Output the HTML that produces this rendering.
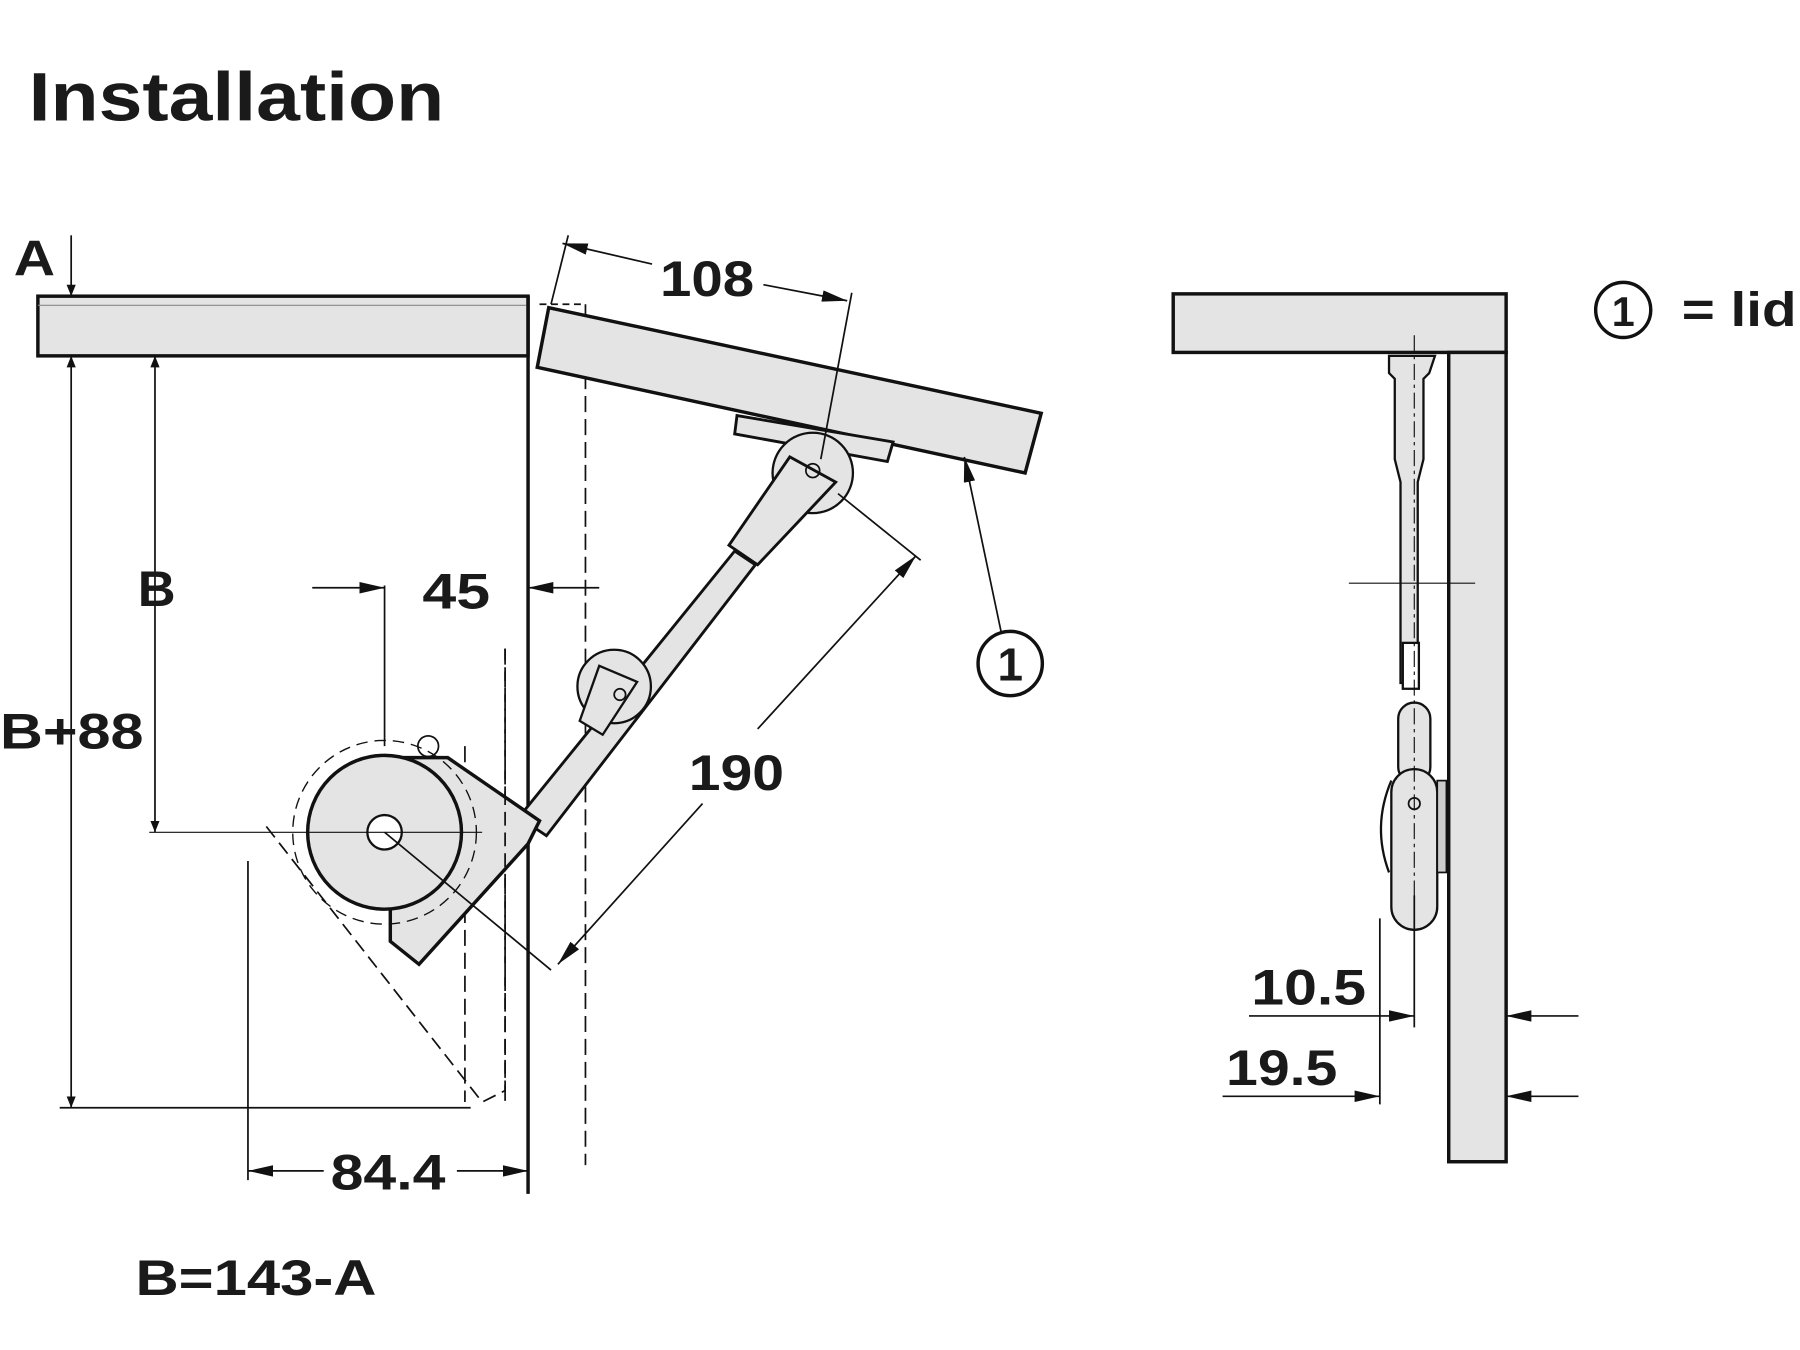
<!DOCTYPE html>
<html><head><meta charset="utf-8"><style>
html,body{margin:0;padding:0;background:#fff;width:1800px;height:1350px;overflow:hidden}
svg{display:block}
text{font-family:"Liberation Sans",Arial,sans-serif;font-weight:bold;fill:#1a1a1a}
</style></head><body>
<svg width="1800" height="1350" viewBox="0 0 1568 1176" preserveAspectRatio="none" xmlns="http://www.w3.org/2000/svg">
<defs>
<marker id="ar" markerWidth="10" markerHeight="8" refX="10" refY="4" orient="auto-start-reverse" markerUnits="userSpaceOnUse"><path d="M0,0 L10,4 L0,8 Z" fill="#111"/></marker>
<marker id="arb" markerWidth="22" markerHeight="10" refX="22" refY="5" orient="auto-start-reverse" markerUnits="userSpaceOnUse"><path d="M0,0 L22,5 L0,10 Z" fill="#111"/></marker>
</defs>
<text x="25" y="105" font-size="60" textLength="362" lengthAdjust="spacingAndGlyphs">Installation</text>

<rect x="33" y="258" width="427" height="52" fill="#e4e4e4" stroke="#111" stroke-width="3"/>
<line x1="33" y1="266" x2="460" y2="266" stroke="#888" stroke-width="1"/>
<line x1="460" y1="258" x2="460" y2="1040" stroke="#111" stroke-width="3"/>
<line x1="510" y1="265" x2="510" y2="1015" stroke="#111" stroke-width="1.5" stroke-dasharray="14,6"/>
<line x1="470" y1="265" x2="510" y2="265" stroke="#111" stroke-width="1.5" stroke-dasharray="6,4"/>
<line x1="440" y1="565" x2="440" y2="960" stroke="#111" stroke-width="1.5" stroke-dasharray="14,6"/>
<line x1="405" y1="650" x2="405" y2="960" stroke="#111" stroke-width="1.5" stroke-dasharray="14,6"/>

<polygon points="478,268 907,360 893,412 468,320" fill="#e4e4e4" stroke="#111" stroke-width="3"/>
<polygon points="642,362 778,385 773,402 640,378" fill="#e4e4e4" stroke="#111" stroke-width="2.5"/>
<circle cx="708" cy="412" r="35" fill="#e4e4e4" stroke="#111" stroke-width="2"/>
<polygon points="688,398 728,420 660,492 635,475" fill="#e4e4e4" stroke="#111" stroke-width="2.5"/>
<polygon points="640,480 658,492 476,728 452,712" fill="#e4e4e4" stroke="#111" stroke-width="2.5"/>
<circle cx="535" cy="598" r="32" fill="#e4e4e4" stroke="#111" stroke-width="2"/>
<polygon points="522,580 555,594 525,640 505,628" fill="#e4e4e4" stroke="#111" stroke-width="2"/>
<circle cx="540" cy="605" r="5" fill="none" stroke="#111" stroke-width="1.5"/>
<circle cx="708" cy="410" r="6" fill="none" stroke="#111" stroke-width="1.5"/>
<polygon points="340,660 390,660 470,715 460,735 365,840 340,820" fill="#e4e4e4" stroke="#111" stroke-width="3"/>
<circle cx="335" cy="725" r="67" fill="#e4e4e4" stroke="#111" stroke-width="3"/>
<circle cx="335" cy="725" r="15" fill="#fff" stroke="#111" stroke-width="2"/>
<circle cx="373" cy="650" r="9" fill="none" stroke="#111" stroke-width="1.5"/>
<polyline points="232,720 420,960 440,950 440,565" fill="none" stroke="#111" stroke-width="1.5" stroke-dasharray="12,6"/>
<circle cx="335" cy="725" r="80" fill="none" stroke="#111" stroke-width="1.2" stroke-dasharray="10,6"/>
<line x1="130" y1="725" x2="420" y2="725" stroke="#111" stroke-width="1"/>
<line x1="335" y1="510" x2="335" y2="650" stroke="#111" stroke-width="1.5"/>
<line x1="335" y1="725" x2="480" y2="845" stroke="#111" stroke-width="1.5"/>

<text x="12" y="240" font-size="44" textLength="36" lengthAdjust="spacingAndGlyphs">A</text>
<line x1="62" y1="205" x2="62" y2="258" stroke="#111" stroke-width="1.5" marker-end="url(#ar)"/>
<line x1="62" y1="310" x2="62" y2="965" stroke="#111" stroke-width="1.5" marker-start="url(#ar)" marker-end="url(#ar)"/>
<line x1="135" y1="310" x2="135" y2="725" stroke="#111" stroke-width="1.5" marker-start="url(#ar)" marker-end="url(#ar)"/>
<line x1="52" y1="965" x2="410" y2="965" stroke="#111" stroke-width="1.5"/>
<text x="120" y="528" font-size="44" textLength="33" lengthAdjust="spacingAndGlyphs">B</text>
<text x="0" y="652" font-size="44" textLength="125" lengthAdjust="spacingAndGlyphs">B+88</text>
<line x1="272" y1="512" x2="335" y2="512" stroke="#111" stroke-width="1.5" marker-end="url(#arb)"/>
<line x1="522" y1="512" x2="460" y2="512" stroke="#111" stroke-width="1.5" marker-end="url(#arb)"/>
<text x="368" y="530" font-size="44" textLength="59" lengthAdjust="spacingAndGlyphs">45</text>
<line x1="216" y1="750" x2="216" y2="1028" stroke="#111" stroke-width="1.5"/>
<line x1="216" y1="1020" x2="282" y2="1020" stroke="#111" stroke-width="1.5" marker-start="url(#arb)"/>
<line x1="398" y1="1020" x2="460" y2="1020" stroke="#111" stroke-width="1.5" marker-end="url(#arb)"/>
<text x="288" y="1036" font-size="44" textLength="100" lengthAdjust="spacingAndGlyphs">84.4</text>
<text x="118" y="1128" font-size="44" textLength="210" lengthAdjust="spacingAndGlyphs">B=143-A</text>
<line x1="495" y1="205" x2="480" y2="265" stroke="#111" stroke-width="1.5"/>
<line x1="742" y1="255" x2="715" y2="400" stroke="#111" stroke-width="1.5"/>
<line x1="490" y1="212" x2="568" y2="230" stroke="#111" stroke-width="1.5" marker-start="url(#arb)"/>
<line x1="665" y1="248" x2="738" y2="262" stroke="#111" stroke-width="1.5" marker-end="url(#arb)"/>
<text x="575" y="258" font-size="44" textLength="82" lengthAdjust="spacingAndGlyphs">108</text>
<line x1="730" y1="430" x2="802" y2="488" stroke="#111" stroke-width="1.5"/>
<line x1="798" y1="484" x2="660" y2="635" stroke="#111" stroke-width="1.5" marker-start="url(#arb)"/>
<line x1="612" y1="700" x2="486" y2="840" stroke="#111" stroke-width="1.5" marker-end="url(#arb)"/>
<text x="600" y="688" font-size="44" textLength="83" lengthAdjust="spacingAndGlyphs">190</text>
<line x1="872" y1="550" x2="840" y2="398" stroke="#111" stroke-width="1.5" marker-end="url(#arb)"/>
<circle cx="880" cy="578" r="28" fill="none" stroke="#111" stroke-width="3"/>
<text x="880" y="593" font-size="40" text-anchor="middle">1</text>

<rect x="1022" y="256" width="290" height="51" fill="#e4e4e4" stroke="#111" stroke-width="3"/>
<rect x="1262" y="307" width="50" height="705" fill="#e4e4e4" stroke="#111" stroke-width="3"/>
<circle cx="1414" cy="270" r="24" fill="none" stroke="#111" stroke-width="3"/>
<text x="1414" y="284" font-size="36" text-anchor="middle">1</text>
<text x="1465" y="284" font-size="42" textLength="100" lengthAdjust="spacingAndGlyphs">= lid</text>
<path d="M1210,310 L1250,310 L1245,325 L1240,330 L1240,400 L1235,420 L1235,595 L1220,595 L1220,420 L1215,400 L1215,330 L1210,325 Z" fill="#e4e4e4" stroke="#111" stroke-width="2"/>
<rect x="1222" y="560" width="14" height="40" fill="#fff" stroke="#111" stroke-width="2"/>
<rect x="1218" y="612" width="28" height="70" rx="14" fill="#e4e4e4" stroke="#111" stroke-width="2"/>
<rect x="1212" y="670" width="40" height="140" rx="20" fill="#e4e4e4" stroke="#111" stroke-width="2"/>
<path d="M1212,680 Q1195,720 1210,760" fill="none" stroke="#111" stroke-width="2"/>
<rect x="1252" y="680" width="8" height="80" fill="#ccc" stroke="#111" stroke-width="1.5"/>
<circle cx="1232" cy="700" r="5" fill="none" stroke="#111" stroke-width="1.5"/>
<line x1="1232" y1="292" x2="1232" y2="800" stroke="#111" stroke-width="1" stroke-dasharray="14,4,3,4"/>
<line x1="1175" y1="508" x2="1285" y2="508" stroke="#111" stroke-width="1"/>
<line x1="1232" y1="780" x2="1232" y2="895" stroke="#111" stroke-width="1.5"/>
<line x1="1202" y1="800" x2="1202" y2="962" stroke="#111" stroke-width="1.5"/>
<line x1="1088" y1="885" x2="1232" y2="885" stroke="#111" stroke-width="1.5" marker-end="url(#arb)"/>
<line x1="1065" y1="955" x2="1202" y2="955" stroke="#111" stroke-width="1.5" marker-end="url(#arb)"/>
<text x="1090" y="875" font-size="44" textLength="100" lengthAdjust="spacingAndGlyphs">10.5</text>
<text x="1068" y="945" font-size="44" textLength="97" lengthAdjust="spacingAndGlyphs">19.5</text>
<line x1="1375" y1="885" x2="1312" y2="885" stroke="#111" stroke-width="1.5" marker-end="url(#arb)"/>
<line x1="1375" y1="955" x2="1312" y2="955" stroke="#111" stroke-width="1.5" marker-end="url(#arb)"/>
</svg>
</body></html>
